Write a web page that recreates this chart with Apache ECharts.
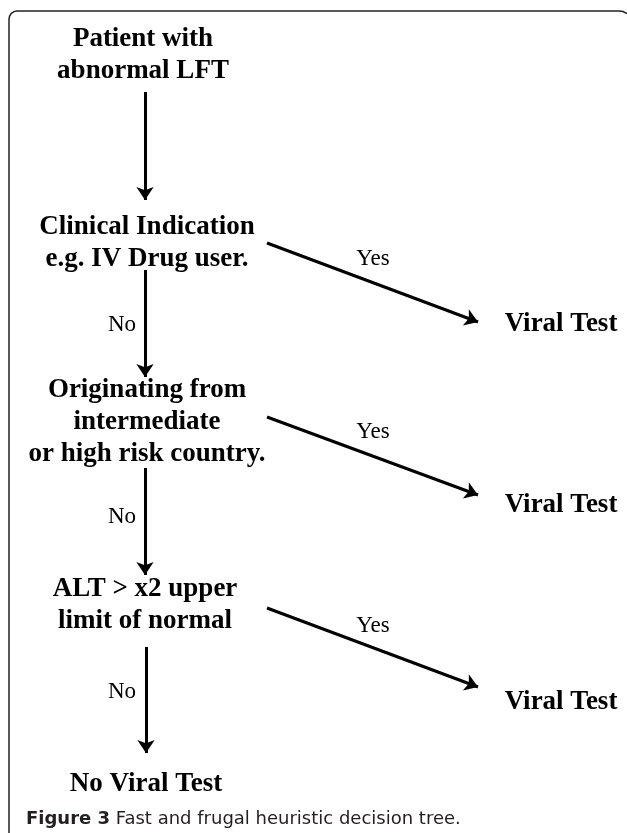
<!DOCTYPE html>
<html>
<head>
<meta charset="utf-8">
<script src="https://cdn.jsdelivr.net/npm/echarts@6/dist/echarts.min.js"></script>
<style>
  html, body { margin: 0; padding: 0; background: #fff; }
  #main { width: 627px; height: 833px; }
</style>
</head>
<body>
<div id="main"></div>
<script>
// 决策树节点（文字 + 中心坐标，单位与画布像素一致）
var nodeTexts = [
    'Patient with\nabnormal LFT',
    'Clinical Indication\ne.g. IV Drug user.',
    'Originating from\nintermediate\nor high risk country.',
    'ALT > x2 upper\nlimit of normal',
    'No Viral Test',
    'Viral Test',
    'Viral Test',
    'Viral Test'
];
var nodeX = [143, 147, 147, 145, 146, 561, 561, 561];
var nodeY = [55, 243, 422, 605, 784, 324, 505, 702];

// 连线（起点 -> 终点）
var edgeFrom = [[145, 92], [145, 270], [145, 468], [146, 647], [267, 243], [267, 417], [267, 608]];
var edgeTo = [[145, 200], [145, 377], [145, 575], [146, 753], [478, 322], [478, 495], [478, 687]];

// 连线上的标注
var edgeLabels = ['No', 'No', 'No', 'Yes', 'Yes', 'Yes'];
var edgeLabelX = [122, 122, 122, 373, 373, 373];
var edgeLabelY = [325, 517, 692, 259, 432, 626];

var myChart = echarts.init(document.getElementById('main'));

var nodeData = nodeTexts.map(function (t, i) {
    return { name: t, value: [nodeX[i], nodeY[i]] };
});
var edgeData = edgeFrom.map(function (p, i) {
    return { coords: [p, edgeTo[i]] };
});
var labelData = edgeLabels.map(function (t, i) {
    return { name: t, value: [edgeLabelX[i], edgeLabelY[i]] };
});

var option = {
    animation: false,
    backgroundColor: '#fff',
    title: {
        left: 21,
        top: 805,
        text: '{b|Figure 3} Fast and frugal heuristic decision tree.',
        textStyle: {
            fontFamily: 'DejaVu Sans',
            fontSize: 18,
            fontWeight: 'normal',
            color: '#231f20',
            rich: {
                b: { fontFamily: 'DejaVu Sans', fontSize: 18, fontWeight: 'bold', color: '#231f20' }
            }
        }
    },
    // 外框：左上圆角 + 左边、上边
    graphic: [{
        type: 'polyline',
        shape: {
            points: [[9, 833], [9, 19], [9.6, 16], [11.3, 13.3], [14, 11.6], [17, 11], [619, 11], [623, 11.5], [627, 13.5]]
        },
        style: { fill: null, stroke: '#222', lineWidth: 1.5 }
    }],
    grid: { left: 0, right: 0, top: 0, bottom: 0 },
    xAxis: { type: 'value', min: 0, max: 627, show: false },
    yAxis: { type: 'value', min: 0, max: 833, inverse: true, show: false },
    series: [{
        name: '节点',
        type: 'scatter',
        symbolSize: 0,
        itemStyle: { opacity: 1 },
        data: nodeData,
        label: {
            show: true,
            position: 'inside',
            formatter: '{b}',
            fontFamily: 'Liberation Serif',
            fontWeight: 'bold',
            fontSize: 27,
            lineHeight: 32,
            align: 'center',
            color: '#000',
            opacity: 1
        }
    }, {
        name: '标注',
        type: 'scatter',
        symbolSize: 0,
        itemStyle: { opacity: 1 },
        data: labelData,
        label: {
            show: true,
            position: 'inside',
            formatter: '{b}',
            fontFamily: 'Liberation Serif',
            fontSize: 23,
            color: '#000',
            opacity: 1
        }
    }, {
        name: '连线',
        type: 'lines',
        coordinateSystem: 'cartesian2d',
        symbol: ['none', 'arrow'],
        symbolSize: [10, 13],
        lineStyle: { color: '#000', width: 3, opacity: 1 },
        data: edgeData
    }]
};

myChart.setOption(option);
</script>
</body>
</html>
